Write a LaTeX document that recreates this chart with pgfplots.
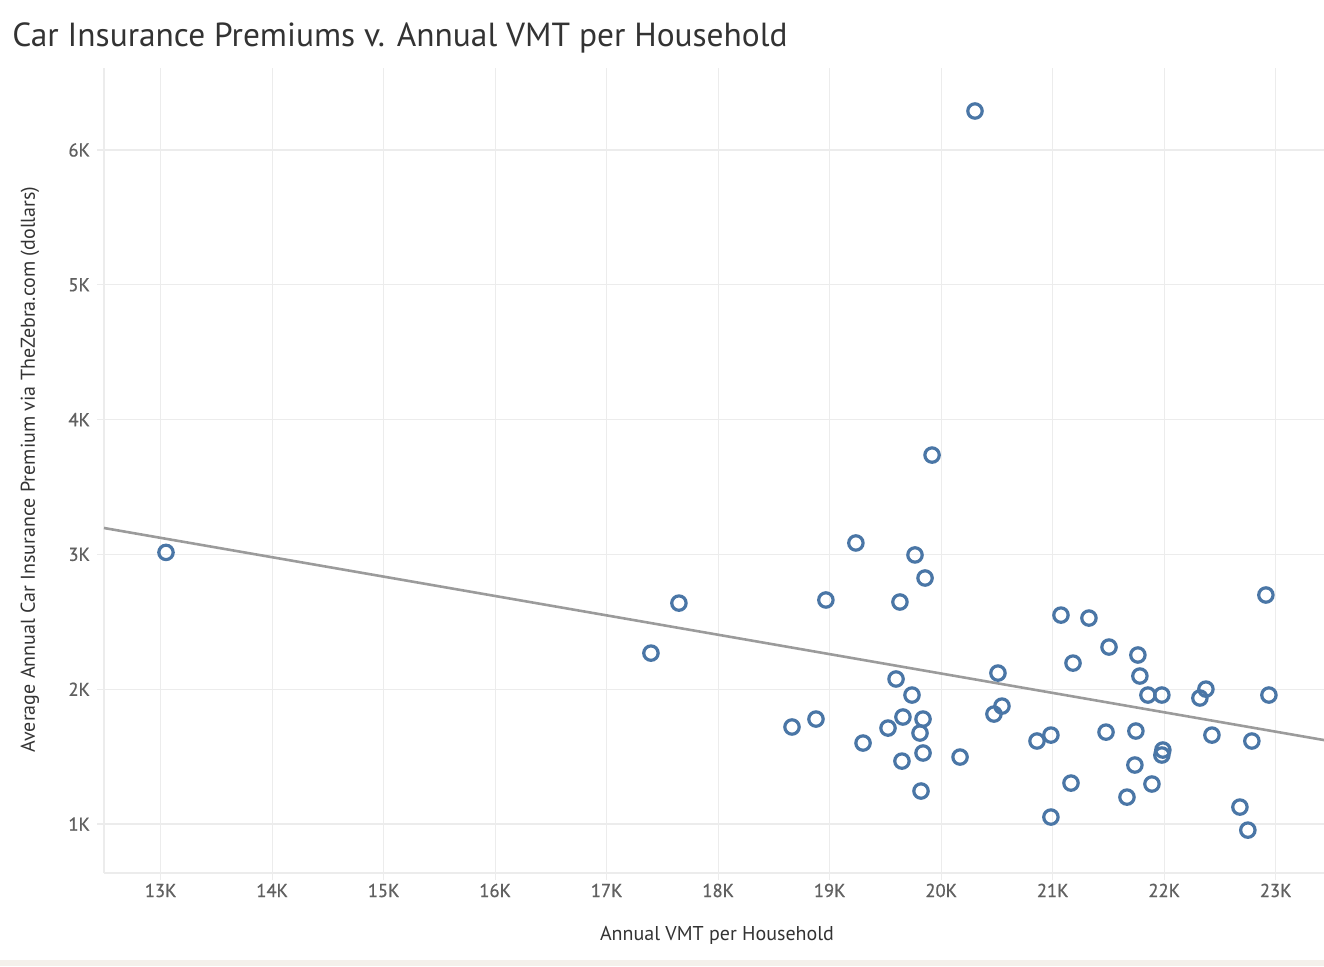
\documentclass[border=0pt]{standalone}
\usepackage{pgfplots}
\pgfplotsset{compat=1.18}
\usepackage{fontspec}
\setmainfont{PT Sans}
\newfontfamily\tickfont[FakeBold=0.8]{PT Sans}
\definecolor{ptblue}{RGB}{74,118,166}
\definecolor{gridgray}{RGB}{236,236,236}
\definecolor{trendgray}{RGB}{155,155,155}
\definecolor{titlecol}{RGB}{51,51,51}
\definecolor{tickcol}{RGB}{96,96,96}
\definecolor{beige}{RGB}{244,240,235}
\begin{document}
\begin{tikzpicture}
\useasboundingbox (-52pt,-46.5pt) rectangle (610pt,436.5pt);
\fill[beige] (-52pt,-46.5pt) rectangle (610pt,-43.5pt);
\begin{axis}[
  at={(0,0)}, anchor=south west,
  scale only axis, width=610pt, height=402.5pt,
  xmin=12492, xmax=23433, ymin=637, ymax=6608,
  scaled x ticks=false, scaled y ticks=false,
  axis lines*=left,
  axis line style={-, draw=gridgray, line width=0.6pt},
  grid=major,
  major grid style={draw=gridgray, line width=0.6pt},
  tick align=outside,
  major tick length=3.5pt,
  tick style={draw=gridgray, line width=0.6pt},
  xtick={13000,14000,15000,16000,17000,18000,19000,20000,21000,22000,23000},
  xticklabels={13K,14K,15K,16K,17K,18K,19K,20K,21K,22K,23K},
  ytick={1000,2000,3000,4000,5000,6000},
  yticklabels={1K,2K,3K,4K,5K,6K},
  ticklabel style={font=\tickfont\fontsize{9.3}{11}\selectfont, text=tickcol},
  xticklabel style={anchor=base, yshift=-8.5pt},
  yticklabel style={anchor=east},
  clip=false,
]
\addplot[trendgray, line width=1.3pt] coordinates {(12492,3196) (23433,1623)};
\addplot[only marks, mark=o, mark size=3.6pt, mark options={draw=ptblue, line width=1.6pt, fill=none}] coordinates {
(13048,3015)
(17397,2268)
(17648,2639)
(18662,1720)
(18877,1779)
(18966,2662)
(19235,3085)
(19299,1601)
(19523,1712)
(19595,2076)
(19630,2647)
(19648,1467)
(19657,1794)
(19738,1957)
(19765,2996)
(19810,1675)
(19837,1779)
(19837,1527)
(19819,1245)
(19855,2825)
(19918,3737)
(20169,1497)
(20303,6289)
(20473,1816)
(20509,2120)
(20545,1875)
(20859,1616)
(20984,1660)
(20984,1052)
(21074,2550)
(21164,1304)
(21182,2194)
(21325,2528)
(21478,1682)
(21505,2313)
(21666,1200)
(21737,1438)
(21746,1690)
(21764,2254)
(21782,2098)
(21854,1957)
(21890,1297)
(21979,1957)
(21979,1512)
(21988,1549)
(22320,1935)
(22374,2001)
(22428,1660)
(22679,1126)
(22750,955)
(22786,1616)
(22912,2699)
(22939,1957)
};
\end{axis}
\node[anchor=base west, text=titlecol, font=\fontsize{16.7}{20}\selectfont, inner sep=0pt] at (-46pt,413pt) {Car Insurance Premiums v. Annual VMT per Household};
\node[anchor=base, text=titlecol, font=\fontsize{10}{12}\selectfont, inner sep=0pt] at (306.5pt,-33.5pt) {Annual VMT per Household};
\node[anchor=base, rotate=90, text=titlecol, font=\fontsize{10}{12}\selectfont, inner sep=0pt] at (-34.5pt,201.75pt) {Average Annual Car Insurance Premium via TheZebra.com (dollars)};
\end{tikzpicture}
\end{document}
